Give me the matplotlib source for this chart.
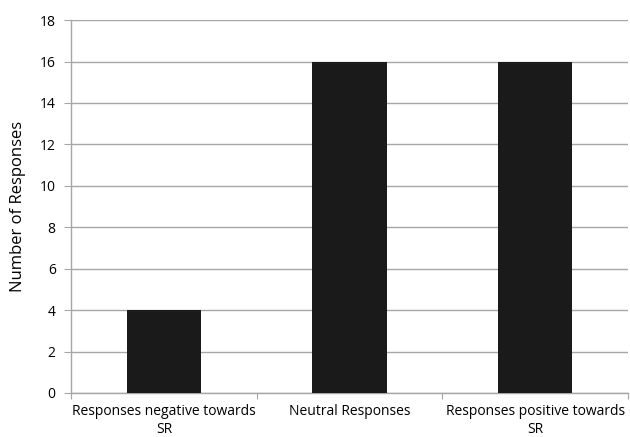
import matplotlib
matplotlib.use("Agg")
import matplotlib.pyplot as plt
import numpy as np

categories = ["Responses negative towards\nSR", "Neutral Responses", "Responses positive towards\nSR"]
counts = [4, 16, 16]
yticks = [0, 2, 4, 6, 8, 10, 12, 14, 16, 18]

plt.rcParams['font.family'] = ['Open Sans', 'DejaVu Sans']

fig = plt.figure(figsize=(6.3, 4.37), dpi=100)
ax = fig.add_axes([0.1127, 0.1007, 0.8843, 0.8533])

x = np.arange(len(categories))
ax.bar(x, counts, width=0.4, color="#1a1a1a", zorder=3)

ax.set_xlim(-0.5, len(categories) - 0.5)
ax.set_ylim(0, 18)
ax.set_yticks(yticks)
ax.yaxis.grid(True, color="#a6a6a6", linewidth=1.0, zorder=0)

grey = "#a6a6a6"
for side in ["top", "right"]:
    ax.spines[side].set_visible(False)
for side in ["left", "bottom"]:
    ax.spines[side].set_color(grey)
    ax.spines[side].set_linewidth(1.0)

# category labels at centres, tick marks at boundaries
ax.set_xticks(np.arange(-0.5, len(categories)), minor=False)
ax.set_xticklabels([])
ax.set_xticks(x, minor=True)
ax.set_xticklabels(categories, minor=True, fontsize=10, linespacing=1.25)
ax.tick_params(axis="x", which="minor", length=0, pad=8)
ax.tick_params(axis="x", which="major", length=4, color=grey, direction="out")
ax.tick_params(axis="y", length=5, color=grey, labelsize=10, pad=6)

ax.set_ylabel("Number of Responses", fontsize=12, labelpad=10)

fig.savefig("out.png", dpi=100)
